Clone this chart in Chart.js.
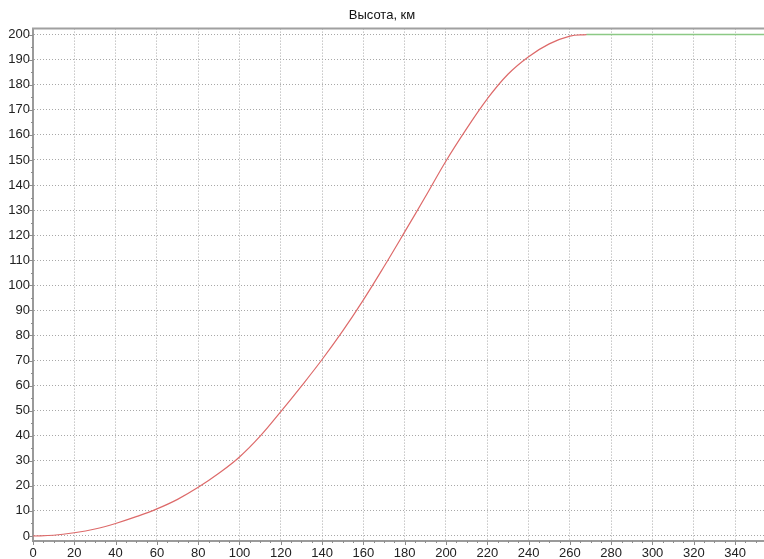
<!DOCTYPE html>
<html>
<head>
<meta charset="utf-8">
<script src="https://cdn.jsdelivr.net/npm/chart.js@4"></script>
<style>
    body { margin: 0; background: #fff; }
    #wrap { width: 764px; height: 559px; }
</style>
</head>
<body>
<div id="wrap"><canvas id="chart" width="764" height="559"></canvas></div>
<script>
// Time axis (s) and altitude (km)
const timeValues = [0, 10, 20, 30, 40, 50, 60, 70, 80, 90, 100, 110, 120, 130, 140,
    150, 160, 170, 180, 190, 200, 210, 220, 230, 240, 250, 260, 268];
const heightValues = [0, 0.3, 1.3, 2.8, 5.0, 7.7, 10.8, 14.6, 19.4, 25.0, 31.5, 39.8, 49.6, 59.8, 70.4,
    81.8, 94.2, 107.5, 121.3, 135.3, 149.6, 162.5, 174.4, 184.2, 191.2, 196.3, 199.4, 200];

// Flat part after reaching orbit
const orbitTime = [268, 354];
const orbitHeight = [200, 200];

const xTicks = [0, 20, 40, 60, 80, 100, 120, 140, 160, 180, 200, 220, 240, 260, 280, 300, 320, 340];
const yTicks = [0, 10, 20, 30, 40, 50, 60, 70, 80, 90, 100, 110, 120, 130, 140, 150, 160, 170, 180, 190, 200];

const toPoints = (xs, ys) => xs.map((v, i) => ({ x: v, y: ys[i] }));

// Small tick marks on the axes + the grey frame on top
const axisTicks = {
    id: 'axisTicks',
    afterDraw(chart) {
        const { ctx, chartArea, scales: { x, y } } = chart;
        ctx.save();
        ctx.strokeStyle = '#8c8c8c';
        ctx.lineWidth = 1;
        ctx.beginPath();
        for (let v = 0; v <= x.max; v += 5) {
            const px = Math.round(x.getPixelForValue(v)) + 0.5;
            const len = v % 20 === 0 ? 4 : 2;
            ctx.moveTo(px, chartArea.bottom);
            ctx.lineTo(px, chartArea.bottom + len);
        }
        for (let v = 0; v <= 200; v += 5) {
            const py = Math.round(y.getPixelForValue(v)) + 0.5;
            const len = v % 10 === 0 ? 4 : 2;
            ctx.moveTo(chartArea.left, py);
            ctx.lineTo(chartArea.left - len, py);
        }
        ctx.stroke();
        ctx.strokeStyle = '#a0a0a0';
        ctx.lineWidth = 2;
        ctx.beginPath();
        ctx.moveTo(chartArea.left - 1, chartArea.top);
        ctx.lineTo(chartArea.right, chartArea.top);
        ctx.stroke();
        ctx.restore();
    }
};

const tickFont = { family: 'Liberation Sans, Arial', size: 13 };

const ctx = document.getElementById('chart').getContext('2d');
new Chart(ctx, {
    type: 'line',
    data: {
        datasets: [{
            data: toPoints(timeValues, heightValues),
            borderColor: '#dd6a6a',
            borderWidth: 1.2,
            pointRadius: 0,
            tension: 0.4,
            fill: false
        }, {
            data: toPoints(orbitTime, orbitHeight),
            borderColor: '#8cc985',
            borderWidth: 1.5,
            pointRadius: 0,
            fill: false
        }]
    },
    options: {
        responsive: false,
        animation: false,
        layout: { padding: 0 },
        scales: {
            x: {
                type: 'linear',
                min: 0,
                max: 354,
                afterBuildTicks: (scale) => { scale.ticks = xTicks.map(v => ({ value: v })); },
                afterFit: (scale) => { scale.height = 18; },
                ticks: { padding: 5, maxRotation: 0, autoSkip: false, color: '#222', font: tickFont },
                grid: { color: '#a8a8a8', drawTicks: false },
                border: { color: '#9a9a9a', width: 2, dash: [1, 2] }
            },
            y: {
                min: -2,
                max: 202.4,
                afterBuildTicks: (scale) => { scale.ticks = yTicks.map(v => ({ value: v })); },
                afterFit: (scale) => { scale.width = 33; },
                ticks: { padding: 3, autoSkip: false, color: '#222', font: tickFont },
                grid: { color: '#a8a8a8', drawTicks: false },
                border: { color: '#9a9a9a', width: 2, dash: [1, 2] }
            }
        },
        plugins: {
            legend: { display: false },
            tooltip: { enabled: false },
            title: {
                display: true,
                text: 'Высота, км',
                color: '#111',
                font: { family: 'Liberation Sans, Arial', size: 13, weight: 'normal' },
                padding: { top: 8, bottom: 5 }
            }
        }
    },
    plugins: [axisTicks]
});
</script>
</body>
</html>
